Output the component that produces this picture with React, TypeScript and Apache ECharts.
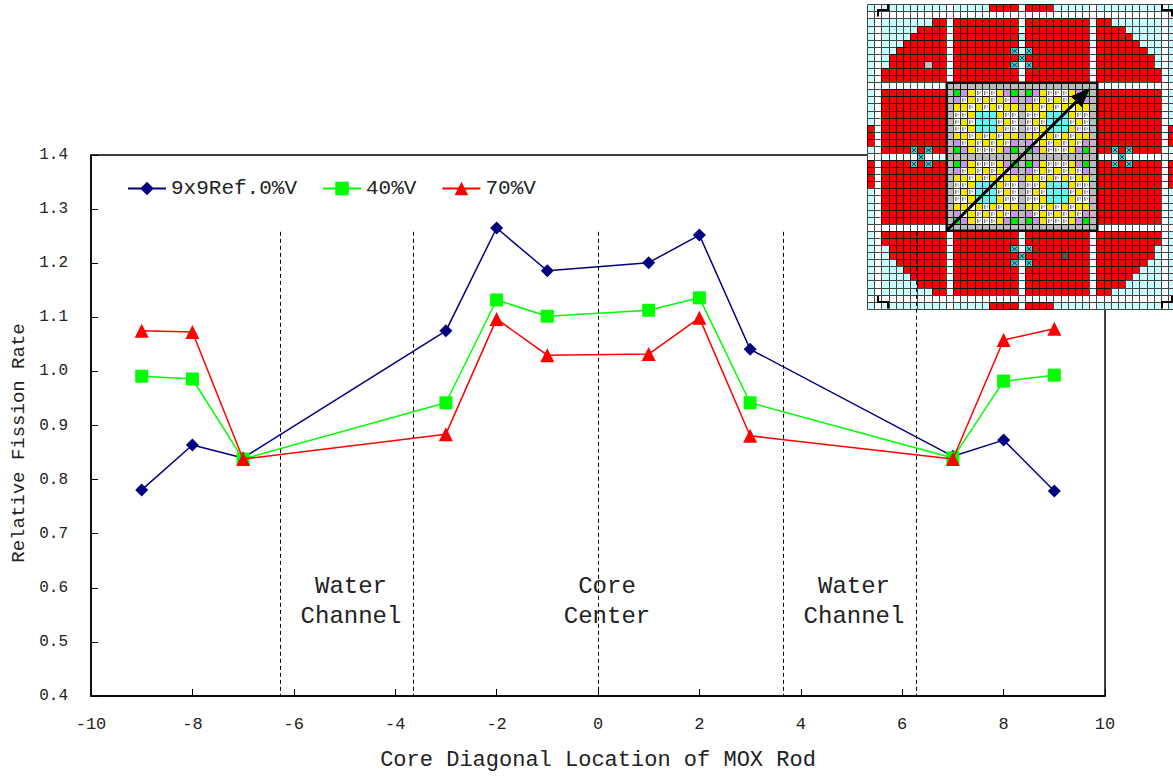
import React, { useEffect, useRef } from "react";
import * as echarts from "echarts";

const xLocations = [-9, -8, -7, -3, -2, -1, 1, 2, 3, 7, 8, 9];
const ref0V = [0.781, 0.864, 0.84, 1.075, 1.265, 1.186, 1.201, 1.252, 1.041, 0.843, 0.873, 0.779];
const void40 = [0.991, 0.986, 0.838, 0.942, 1.132, 1.102, 1.113, 1.136, 0.942, 0.84, 0.982, 0.993];
const void70 = [1.075, 1.073, 0.838, 0.884, 1.097, 1.03, 1.032, 1.099, 0.881, 0.838, 1.058, 1.079];
const dividers = [-6.27, -3.65, 0, 3.65, 6.27];
const dividerTop = 1.258;
const regionLabels = [
  { text: "Water\nChannel", x: 351, y: 601 },
  { text: "Core\nCenter", x: 607, y: 601 },
  { text: "Water\nChannel", x: 854, y: 601 },
];

// one 9x9 MOX bundle of the inset core map
const bundle = [
  "GPYWWWYPG",
  "PWYWYWYWP",
  "YYWYWYWYY",
  "WWYCCCYWW",
  "WYWCCCWYW",
  "WWYCCCYWW",
  "YYWYWYWYY",
  "PWYWYWYWP",
  "GPYWWWYPG",
];
// half-width of the red disk for each distance from the centre row
const diskHalfWidth = [19, 19, 19, 19, 19, 19, 19, 19, 19, 19, 0, 19, 19, 18, 18, 17, 16, 15, 14, 12, 0, 4];
const crossCells = [
  [6, 20], [6, 22], [7, 21], [8, 20], [8, 22],
  [34, 20], [34, 22], [35, 21], [36, 20], [36, 22],
  [20, 6], [20, 8], [21, 7], [22, 6], [22, 8],
  [20, 34], [20, 36], [21, 35], [22, 34], [22, 36],
];
const palette: Record<string, string> = {
  G: "#00e800", P: "#c896f0", Y: "#f5e600", W: "#ffffff", C: "#66f5f5",
};

function buildInset() {
  const x0 = 867, y0 = 4.3, pw = 7.17, ph = 7.08;
  const kids: any[] = [];
  const crossSet = new Set(crossCells.map(([r, c]) => r + "," + c));
  // snapped to the half pixel so that 1px cell borders stay crisp
  const cx = (c: number) => Math.round(x0 + c * pw) + 0.5;
  const cy = (r: number) => Math.round(y0 + r * ph) + 0.5;
  for (let r = 0; r < 43; r++) {
    for (let c = 0; c < 43; c++) {
      const dx = Math.abs(c - 21), dy = Math.abs(r - 21);
      const w = cx(c + 1) - cx(c), h = cy(r + 1) - cy(r);
      let fill = "#c8ffff";
      let isFuel = false;
      if (r >= 11 && r <= 31 && c >= 11 && c <= 31) {
        fill = "#bcbcbc";
        if (dx !== 0 && dy !== 0 && dx !== 10 && dy !== 10) {
          const ri = r < 21 ? r - 12 : r - 22;
          const ci = c < 21 ? c - 12 : c - 22;
          const k = bundle[ri][ci];
          fill = palette[k];
          isFuel = k === "W";
        }
      } else {
        if (dy === 0 || dy === 10 || dy === 20 || dx === 0 || dx === 10 || dx === 20) fill = "#ffffff";
        else if (dx === 21) fill = dy >= 1 && dy <= 4 && r !== 20 ? "#ff0000" : "#c8ffff";
        else if (dx <= (diskHalfWidth[dy] ?? 0)) fill = "#ff0000";
        if ((r === 5 || r === 6) && c === 21) fill = "#d8ffff";
      }
      if (r === 4 && c === 21) fill = "#a8f4f4";
      if (crossSet.has(r + "," + c)) fill = "#3cc8c8";
      if (r === 8 && c === 8) fill = "#c0c0c0";
      if (r === 35 && c === 27) fill = "#555555";
      const isLight = fill === "#c8ffff" || fill === "#ffffff";
      kids.push({
        type: "rect",
        shape: { x: cx(c), y: cy(r), width: w, height: h },
        style: { fill, stroke: isLight ? "#444444" : "#111111", lineWidth: 1 },
      });
      if (isFuel) {
        kids.push({ type: "rect", shape: { x: cx(c) + 1.5, y: cy(r) + 1.5, width: 1.5, height: 4 }, style: { fill: "#888888" } });
        kids.push({ type: "rect", shape: { x: cx(c) + 4, y: cy(r) + 2, width: 1.5, height: 2 }, style: { fill: "#aaaaaa" } });
      }
      if (crossSet.has(r + "," + c)) {
        kids.push({ type: "line", shape: { x1: cx(c) + 1.5, y1: cy(r) + 1.5, x2: cx(c) + w - 1.5, y2: cy(r) + h - 1.5 }, style: { stroke: "#224444", lineWidth: 1 } });
        kids.push({ type: "line", shape: { x1: cx(c) + w - 1.5, y1: cy(r) + 1.5, x2: cx(c) + 1.5, y2: cy(r) + h - 1.5 }, style: { stroke: "#224444", lineWidth: 1 } });
      }
    }
  }
  // core outline
  kids.push({
    type: "rect",
    shape: { x: 946.7, y: 82.7, width: 150.6, height: 148 },
    style: { fill: "none", stroke: "#111111", lineWidth: 2.5 },
  });
  // corner brackets
  const corners = [
    [[888, 4.5], [888, 10], [878, 10], [878, 16.5]],
    [[1162, 4.5], [1162, 10], [1172, 10], [1172, 16.5]],
    [[888, 308.5], [888, 302], [878, 302], [878, 296]],
    [[1162, 308.5], [1162, 302], [1172, 302], [1172, 296]],
  ];
  corners.forEach((points) =>
    kids.push({ type: "polyline", shape: { points }, style: { fill: "none", stroke: "#000000", lineWidth: 2 } })
  );
  // arrow
  kids.push({ type: "line", shape: { x1: 946.7, y1: 230.5, x2: 1078, y2: 100 }, style: { stroke: "#000000", lineWidth: 3 } });
  kids.push({
    type: "polygon",
    shape: { points: [[1089, 89], [1071.5, 96.5], [1081.5, 106.5]] },
    style: { fill: "#000000", stroke: "#000000", lineWidth: 1 },
  });
  return { type: "group", z: 100, silent: true, children: kids };
}

const font = "Liberation Mono";
const toPairs = (vals: number[]) => xLocations.map((x, i) => [x, vals[i]]);

export default function App() {
  const ref = useRef<HTMLDivElement>(null);
  useEffect(() => {
    if (!ref.current) return;
    const chart = echarts.init(ref.current, undefined, { renderer: "svg" });
    const lineSeries = (name: string, vals: number[], color: string, symbol: string, size: number, z: number) => ({
      name,
      type: "line",
      data: toPairs(vals),
      symbol,
      symbolSize: size,
      z,
      lineStyle: { color, width: 1.5 },
      itemStyle: { color },
    });
    chart.setOption({
      animation: false,
      backgroundColor: "#ffffff",
      textStyle: { fontFamily: font },
      grid: {
        left: 91, right: 68, top: 155, bottom: 80,
        show: true, borderColor: "#000000", borderWidth: 1.5, backgroundColor: "transparent",
        containLabel: false, outerBoundsMode: "none",
      },
      legend: {
        left: 122,
        top: 173,
        itemWidth: 38,
        itemHeight: 17,
        itemGap: 25,
        selectedMode: false,
        textStyle: { fontFamily: font, fontSize: 21, color: "#222222" },
        data: ["9x9Ref.0%V", "40%V", "70%V"],
      },
      xAxis: {
        type: "value",
        min: -10,
        max: 10,
        interval: 2,
        name: "Core Diagonal Location of MOX Rod",
        nameLocation: "middle",
        nameGap: 53,
        nameTextStyle: { fontFamily: font, fontSize: 22, color: "#222222" },
        axisLine: { onZero: false, lineStyle: { color: "#000000", width: 1.5 } },
        axisTick: { inside: true, length: 7, lineStyle: { color: "#000000" } },
        axisLabel: { fontFamily: font, fontSize: 17, color: "#222222", margin: 20 },
        splitLine: { show: false },
      },
      yAxis: {
        type: "value",
        min: 0.4,
        max: 1.4,
        interval: 0.1,
        name: "Relative Fission Rate",
        nameLocation: "middle",
        nameGap: 48,
        nameRotate: 90,
        nameTextStyle: { fontFamily: font, fontSize: 19, color: "#222222", padding: [0, 35, 0, 0] },
        axisLine: { onZero: false, lineStyle: { color: "#000000", width: 1.5 } },
        axisTick: { inside: true, length: 7, lineStyle: { color: "#000000" } },
        axisLabel: { fontFamily: font, fontSize: 16, color: "#222222", margin: 23, formatter: (v: number) => v.toFixed(1) },
        splitLine: { show: false },
      },
      series: [
        {
          name: "dividers",
          type: "line",
          data: [],
          silent: true,
          markLine: {
            silent: true,
            symbol: "none",
            label: { show: false },
            lineStyle: { color: "#000000", type: [4, 3], width: 1 },
            data: dividers.map((x) => [{ coord: [x, dividerTop] }, { coord: [x, 0.4] }]),
          },
        },
        lineSeries("9x9Ref.0%V", ref0V, "#000080", "diamond", 13, 3),
        lineSeries("40%V", void40, "#00ff00", "rect", 13, 4),
        lineSeries("70%V", void70, "#ff0000", "triangle", 14, 5),
      ],
      graphic: [
        ...regionLabels.map((l) => ({
          type: "text",
          x: l.x,
          y: l.y,
          z: 20,
          style: {
            text: l.text,
            fontFamily: font,
            fontSize: 24,
            lineHeight: 30,
            fill: "#222222",
            textAlign: "center",
            textVerticalAlign: "middle",
          },
        })),
        buildInset(),
      ],
    });
    return () => chart.dispose();
  }, []);
  return <div ref={ref} style={{ position: "absolute", left: 0, top: 0, width: 1173, height: 776, overflow: "hidden" }} />;
}
